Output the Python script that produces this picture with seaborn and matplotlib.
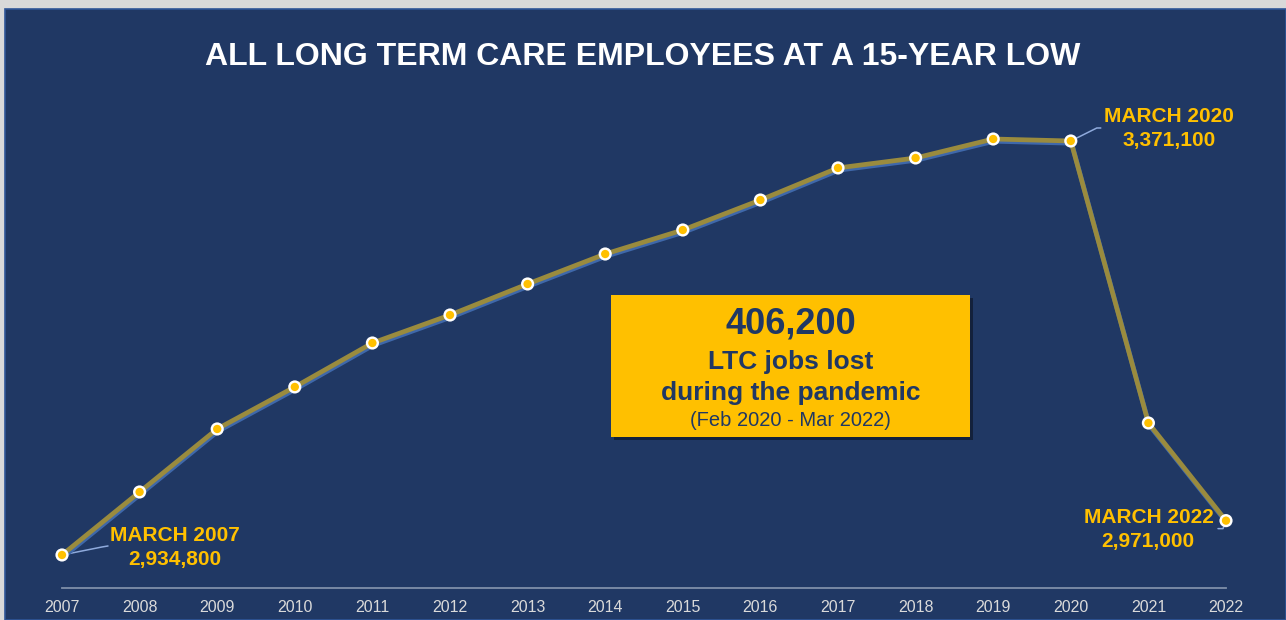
import matplotlib
matplotlib.use("Agg")
import matplotlib.pyplot as plt
import matplotlib.patheffects as pe
import matplotlib.transforms as mtransforms
from matplotlib.patches import Rectangle
import seaborn as sns
import pandas as pd

# ---- data ----
years = [2007, 2008, 2009, 2010, 2011, 2012, 2013, 2014, 2015, 2016,
         2017, 2018, 2019, 2020, 2021, 2022]
employees = [2934800, 3001200, 3067600, 3111900, 3158200, 3187700, 3220400,
             3252000, 3277300, 3308900, 3342700, 3353200, 3373200, 3371100,
             3073900, 2971000]
tick_labels = [str(y) for y in years]
title = "ALL LONG TERM CARE EMPLOYEES AT A 15-YEAR LOW"
callout_years = [2007, 2020, 2022]
callout_names = ["MARCH 2007", "MARCH 2020", "MARCH 2022"]
callout_values = ["2,934,800", "3,371,100", "2,971,000"]
box_lines = ["406,200", "LTC jobs lost", "during the pandemic", "(Feb 2020 - Mar 2022)"]

df = pd.DataFrame({"year": years, "employees": employees})

NAVY = "#203864"
GOLD = "#FFC000"
LINE = "#9A8B3E"
SHADOW = "#3F68AA"
LEADER = "#8FAADC"

sns.set_theme(style="white")
plt.rcParams["font.family"] = ["Liberation Sans", "DejaVu Sans"]

W, H = 1286, 620
fig = plt.figure(figsize=(W / 100, H / 100), dpi=100, facecolor="#D9D9D9")

def fx(px):
    return px / W

def fy(py):
    return 1 - py / H

# navy panel
panel = Rectangle((fx(5), 0), 1 - fx(5), fy(9), transform=fig.transFigure,
                  facecolor=NAVY, edgecolor="#2F5597", lw=1.2, zorder=-5)
fig.patches.append(panel)

ax = fig.add_axes([fx(62), fy(588), fx(1226) - fx(62), fy(100) - fy(588)])
ax.set_facecolor("none")
ax.set_zorder(1)

sns.lineplot(data=df, x="year", y="employees", ax=ax, color=LINE, lw=3.4,
             path_effects=[pe.SimpleLineShadow(offset=(0.6, -1.6),
                                               shadow_color=SHADOW, alpha=1),
                           pe.Normal()], zorder=3)
sns.scatterplot(data=df, x="year", y="employees", ax=ax, s=90, color="white",
                edgecolor="none", zorder=4, clip_on=False)
sns.scatterplot(data=df, x="year", y="employees", ax=ax, s=36, color=GOLD,
                edgecolor="none", zorder=5, clip_on=False)

ax.set_xlim(years[0], years[-1])
ax.set_ylim(2900000, 3414300)
ax.set_xticks(years)
ax.set_xticklabels(tick_labels)
ax.set_yticks([])
ax.set_xlabel("")
ax.set_ylabel("")
for s in ["top", "left", "right"]:
    ax.spines[s].set_visible(False)
ax.spines["bottom"].set_color("#7F8FA9")
ax.spines["bottom"].set_linewidth(1.3)
ax.tick_params(axis="x", direction="in", length=3.5, width=1.2,
               color="#7F8FA9", labelcolor="#DADADA", labelsize=11.5, pad=9)
ax.tick_params(axis="y", left=False)

# ---- callouts ----
val_of = dict(zip(years, employees))
leader_specs = {
    2007: [(0, 0), (40, 8), (46, 9)],
    2020: [(0, 0), (26, 13), (30, 13)],
    2022: [(0, 0), (-3, -8), (-8, -8)],
}
text_offsets = {
    2007: ((113, 19), (113, -5)),
    2020: ((98, 24), (98, 0)),
    2022: ((-77, 3), (-78, -21)),
}
for yr, name, val in zip(callout_years, callout_names, callout_values):
    px0, py0 = ax.transData.transform((yr, val_of[yr]))
    pts = leader_specs[yr]
    ax.plot([px0 + p[0] for p in pts], [py0 + p[1] for p in pts],
            transform=mtransforms.IdentityTransform(), color=LEADER, lw=1.1,
            zorder=2, clip_on=False)
    (o1, o2) = text_offsets[yr]
    ax.annotate(name, xy=(yr, val_of[yr]), xytext=o1, textcoords="offset pixels",
                ha="center", va="center", color=GOLD, fontsize=15,
                fontweight="bold", annotation_clip=False)
    ax.annotate(val, xy=(yr, val_of[yr]), xytext=o2, textcoords="offset pixels",
                ha="center", va="center", color=GOLD, fontsize=15,
                fontweight="bold", annotation_clip=False)

# ---- title ----
fig.text(0.5, fy(57), title, ha="center", va="center", color="white",
         fontsize=23, fontweight="bold")

# ---- yellow box ----
box = Rectangle((fx(611), fy(437)), fx(970) - fx(611), fy(295) - fy(437),
                transform=fig.transFigure, facecolor=GOLD, edgecolor="none",
                zorder=6,
                path_effects=[pe.SimplePatchShadow(offset=(2.5, -2.5),
                                                   shadow_rgbFace="#101c33",
                                                   alpha=0.8),
                              pe.Normal()])
fig.patches.append(box)
cx = fx(790.5)
fig.text(cx, fy(324), box_lines[0], ha="center", va="center", color=NAVY,
         fontsize=26, fontweight="bold", zorder=7)
fig.text(cx, fy(362), box_lines[1], ha="center", va="center", color=NAVY,
         fontsize=19, fontweight="bold", zorder=7)
fig.text(cx, fy(393), box_lines[2], ha="center", va="center", color=NAVY,
         fontsize=19, fontweight="bold", zorder=7)
fig.text(cx, fy(420), box_lines[3], ha="center", va="center", color=NAVY,
         fontsize=14.5, zorder=7)

fig.savefig("out.png", dpi=100, facecolor=fig.get_facecolor())
